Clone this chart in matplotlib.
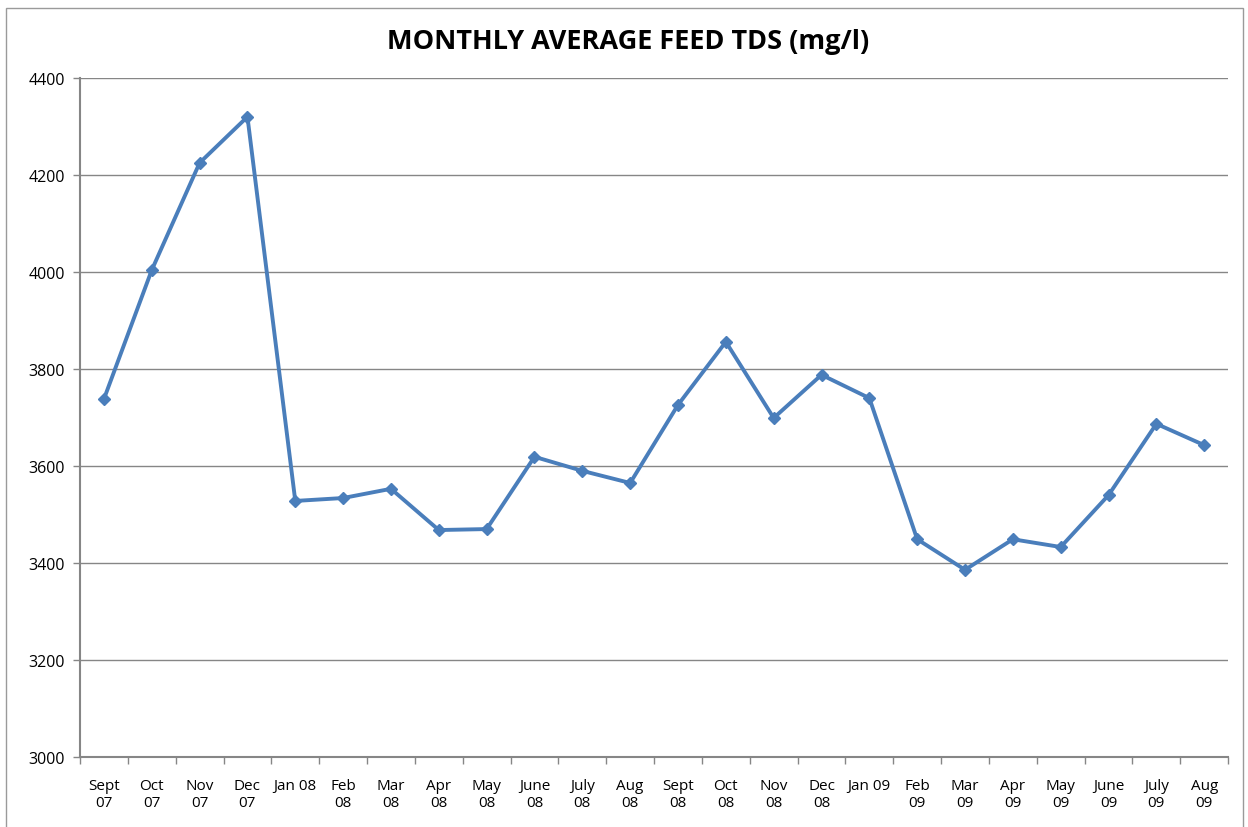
import matplotlib
matplotlib.use("Agg")
import matplotlib.pyplot as plt
from matplotlib.patches import Rectangle

# Data
months = ["Sept\n07", "Oct\n07", "Nov\n07", "Dec\n07", "Jan 08", "Feb\n08",
          "Mar\n08", "Apr\n08", "May\n08", "June\n08", "July\n08", "Aug\n08",
          "Sept\n08", "Oct\n08", "Nov\n08", "Dec\n08", "Jan 09", "Feb\n09",
          "Mar\n09", "Apr\n09", "May\n09", "June\n09", "July\n09", "Aug\n09"]
tds = [3738, 4004, 4225, 4320, 3528, 3534, 3553, 3468, 3470, 3619, 3590, 3565,
       3726, 3856, 3699, 3788, 3740, 3449, 3386, 3449, 3433, 3540, 3687, 3643]
y_ticks = [3000, 3200, 3400, 3600, 3800, 4000, 4200, 4400]

LINE = "#4a7ebb"
AXIS = "#868686"

plt.rcParams["font.family"] = ["Open Sans", "DejaVu Sans"]

fig = plt.figure(figsize=(12.48, 8.28), dpi=100, facecolor="white")
ax = fig.add_axes([0.0641, 0.0845, 0.920, 0.8201])

x = list(range(len(months)))
ax.plot(x, tds, color=LINE, linewidth=2.8, marker="D", markersize=6.5,
        markerfacecolor=LINE, markeredgecolor=LINE, zorder=3, clip_on=False)

ax.set_xlim(-0.5, len(months) - 0.5)
ax.set_ylim(3000, 4400)
ax.set_yticks(y_ticks)
ax.set_yticklabels([str(v) for v in y_ticks], fontsize=11.5, color="black")
ax.yaxis.grid(True, color=AXIS, linewidth=1.0)
ax.set_axisbelow(True)

ax.set_xticks(x)
ax.set_xticklabels(months, fontsize=11, linespacing=1.2)
ax.set_xticks([i - 0.5 for i in range(len(months) + 1)], minor=True)
ax.tick_params(axis="x", which="major", length=0, pad=15)
ax.tick_params(axis="x", which="minor", length=5, color=AXIS, width=1)
ax.tick_params(axis="y", length=5, color=AXIS, width=1, pad=6)

for side in ["top", "right"]:
    ax.spines[side].set_visible(False)
for side in ["left", "bottom"]:
    ax.spines[side].set_color(AXIS)
    ax.spines[side].set_linewidth(1.5)

fig.text(0.503, 0.949, "MONTHLY AVERAGE FEED TDS (mg/l)", ha="center",
         va="center", fontsize=19.5, fontweight="bold")

# outer chart frame
fig.patches.append(Rectangle((6 / 1248, -0.01), 1237 / 1248, 1 - 9 / 828 + 0.01,
                             transform=fig.transFigure, fill=False,
                             edgecolor="#9a9a9a", linewidth=1.0))

fig.savefig("out.png", dpi=100, facecolor="white")
